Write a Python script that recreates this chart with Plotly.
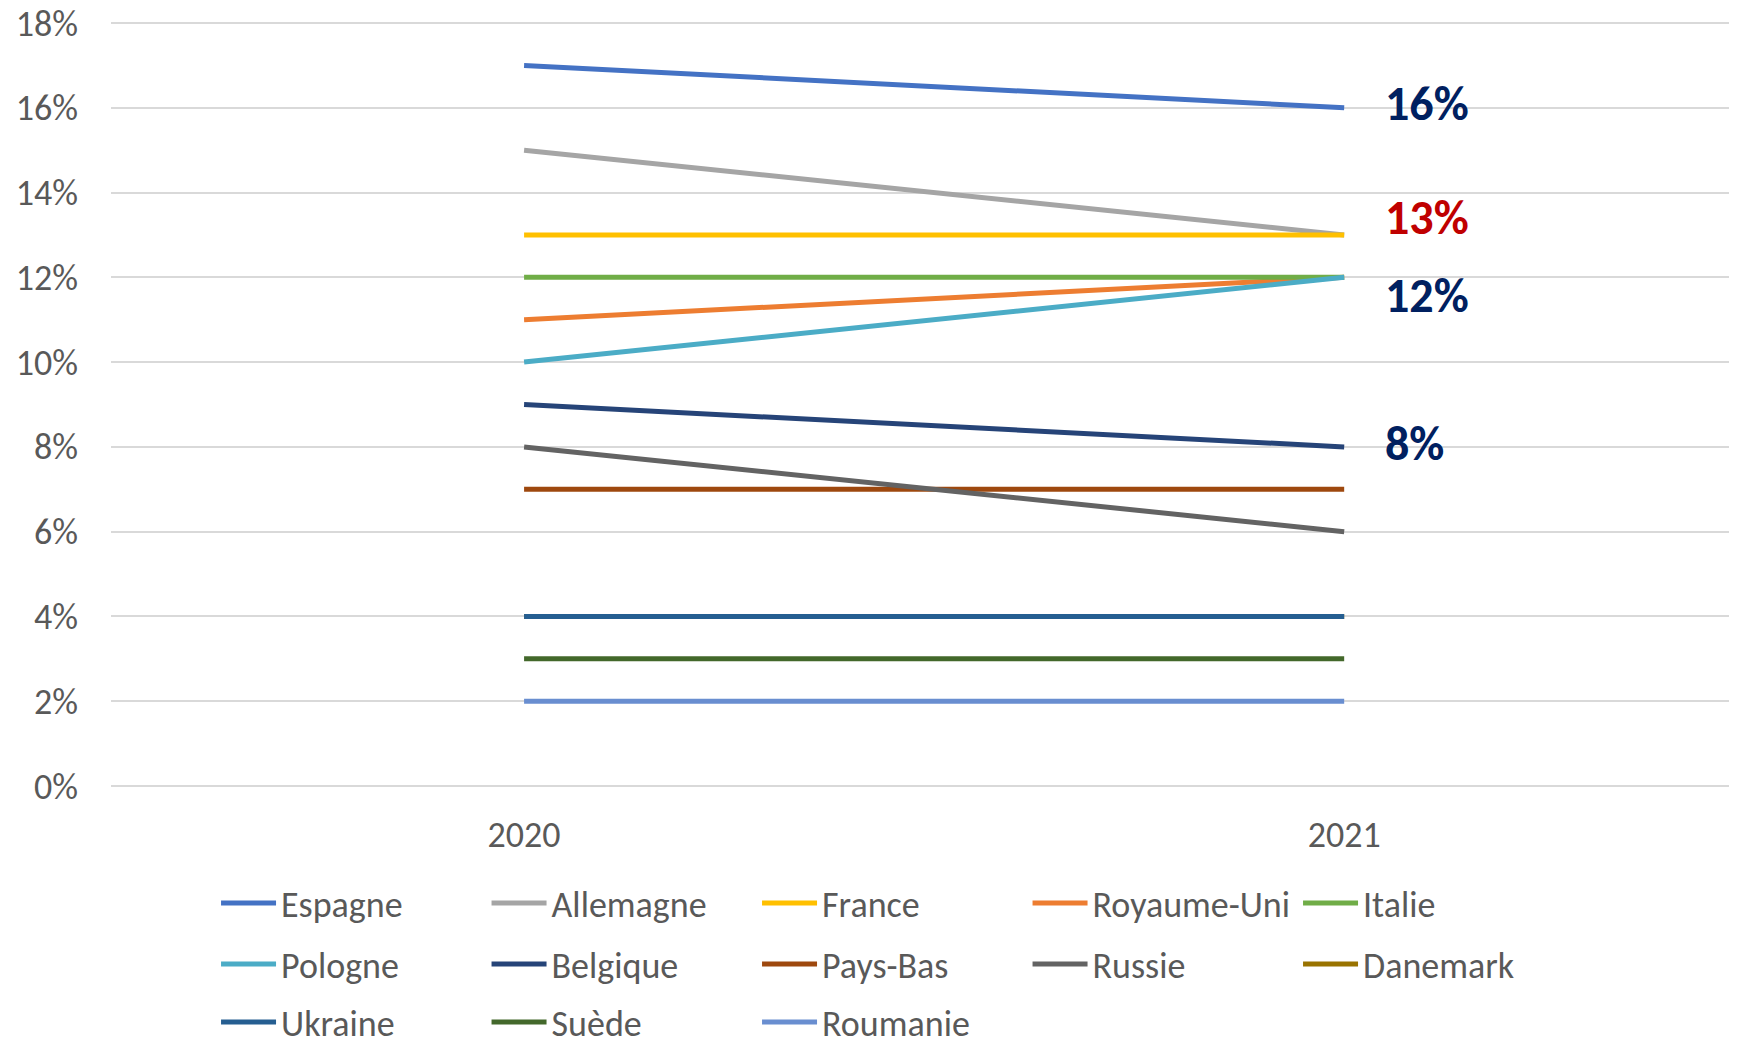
import plotly.graph_objects as go

years = ["2020", "2021"]
countries = ["Espagne", "Allemagne", "France", "Royaume-Uni", "Italie",
             "Pologne", "Belgique", "Pays-Bas", "Russie", "Danemark",
             "Ukraine", "Suède", "Roumanie"]
v2020 = [0.17, 0.15, 0.13, 0.11, 0.12, 0.10, 0.09, 0.07, 0.08, 0.04, 0.04, 0.03, 0.02]
v2021 = [0.16, 0.13, 0.13, 0.12, 0.12, 0.12, 0.08, 0.07, 0.06, 0.04, 0.04, 0.03, 0.02]
colors = ["#4472C4", "#A5A5A5", "#FFC000", "#ED7D31", "#70AD47",
          "#4BACC6", "#264478", "#9E480E", "#636363", "#997300",
          "#255E91", "#43682B", "#698ED0"]

label_values = [0.16, 0.13, 0.12, 0.08]
label_texts = ["16%", "13%", "12%", "8%"]
label_colors = ["#002060", "#C00000", "#002060", "#002060"]
label_yoffsets = [0.0011, 0.0042, -0.0042, 0.0008]

FONT = "Calibri, Carlito, Lato, sans-serif"
FS = 36
xpos = list(range(len(years)))
legend_ids = ["legend", "legend2", "legend3"]

# the page body has an 8px margin, so the figure is drawn 8px smaller and
# everything is placed 8px up/left of its position in the photographed page
OFF = 8
W, H = 1737 - OFF, 1038 - OFF
pad = 3  # extra pixels so that the 0% and 18% grid lines are drawn
plot_top = 23.3 - OFF - pad
plot_bot = 786.0 - OFF + pad
y_per_px = 0.18 / (786.0 - 23.3)
y_range = [-pad * y_per_px, 0.18 + pad * y_per_px]

fig = go.Figure()
for i, (name, a, b, c) in enumerate(zip(countries, v2020, v2021, colors)):
    fig.add_trace(go.Scatter(
        x=xpos, y=[a, b], mode="lines", name=name,
        line=dict(color=c, width=5),
        hoverinfo="skip", legend=legend_ids[i // 5],
    ))

for v, t, c, off in zip(label_values, label_texts, label_colors, label_yoffsets):
    fig.add_annotation(
        x=1, y=v + off, xref="x", yref="y", text=t, showarrow=False,
        xanchor="left", yanchor="middle", xshift=39,
        font=dict(family=FONT, size=48, color=c, weight="bold"),
    )

def ypaper(px_view):
    px = px_view - OFF
    return (plot_bot - px) / (plot_bot - plot_top)

row_px = [903, 964, 1022]
legend_common = dict(
    orientation="h", x=0.0646, xanchor="left", yanchor="middle",
    entrywidth=200.5, entrywidthmode="pixels",
    font=dict(family=FONT, size=FS, color="#595959"),
    itemwidth=55, traceorder="normal", bgcolor="rgba(0,0,0,0)",
)

fig.update_layout(
    width=W, height=H,
    margin=dict(l=111 - OFF, r=0, t=plot_top, b=H - plot_bot, autoexpand=False),
    paper_bgcolor="white", plot_bgcolor="white",
    font=dict(family=FONT, size=FS, color="#595959"),
    showlegend=True,
    legend=dict(y=ypaper(row_px[0]), **legend_common),
    legend2=dict(y=ypaper(row_px[1]), **legend_common),
    legend3=dict(y=ypaper(row_px[2]), **legend_common),
    xaxis=dict(
        range=[-0.5037, 1.479], tickvals=xpos, ticktext=years,
        showgrid=False, zeroline=False, showline=False,
        ticklabelstandoff=24 - pad, ticklabeloverflow="allow",
        tickfont=dict(family=FONT, size=FS, color="#595959"),
    ),
    yaxis=dict(
        range=y_range, tick0=0, dtick=0.02, tickformat=".0%",
        showgrid=True, gridcolor="#D9D9D9", gridwidth=2,
        zeroline=False, showline=False, ticklabelstandoff=32,
        ticklabeloverflow="allow",
        tickfont=dict(family=FONT, size=FS, color="#595959"),
    ),
)

fig.write_html("out.html")
